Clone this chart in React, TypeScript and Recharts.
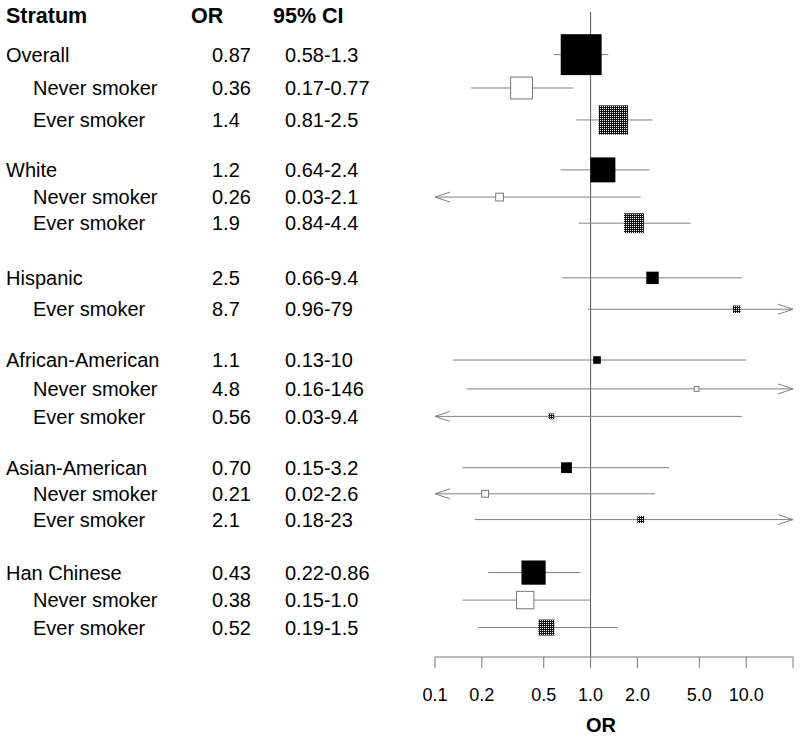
import { ComposedChart, XAxis, YAxis, Line, Scatter, ReferenceLine, Label } from 'recharts'

const strata = [
  'Overall', 'Never smoker', 'Ever smoker',
  'White', 'Never smoker', 'Ever smoker',
  'Hispanic', 'Ever smoker',
  'African-American', 'Never smoker', 'Ever smoker',
  'Asian-American', 'Never smoker', 'Ever smoker',
  'Han Chinese', 'Never smoker', 'Ever smoker',
]
const kinds = [
  'all', 'never', 'ever',
  'all', 'never', 'ever',
  'all', 'ever',
  'all', 'never', 'ever',
  'all', 'never', 'ever',
  'all', 'never', 'ever',
]
const orLabels = [
  '0.87', '0.36', '1.4',
  '1.2', '0.26', '1.9',
  '2.5', '8.7',
  '1.1', '4.8', '0.56',
  '0.70', '0.21', '2.1',
  '0.43', '0.38', '0.52',
]
const ciLabels = [
  '0.58-1.3', '0.17-0.77', '0.81-2.5',
  '0.64-2.4', '0.03-2.1', '0.84-4.4',
  '0.66-9.4', '0.96-79',
  '0.13-10', '0.16-146', '0.03-9.4',
  '0.15-3.2', '0.02-2.6', '0.18-23',
  '0.22-0.86', '0.15-1.0', '0.19-1.5',
]
// row positions on the vertical axis (row units, 0 = top)
const rowPos = [
  1.52, 2.71, 3.85,
  5.63, 6.6, 7.53,
  9.48, 10.6,
  12.41, 13.44, 14.42,
  16.25, 17.18, 18.1,
  19.99, 20.97, 21.95,
]
const headerPos = 0.1
const orTicks = [0.1, 0.2, 0.5, 1, 2, 5, 10, 20]

const X_MIN = 0.1
const X_MAX = 20
const BOX_SCALE = 33
const FONT = '"Liberation Sans", Arial, sans-serif'

const rows = strata.map((name, i) => {
  const [lo, hi] = ciLabels[i].split('-').map(Number)
  return { name, kind: kinds[i], x: Number(orLabels[i]), lo, hi, pos: rowPos[i] }
})

const ciData = (r: { lo: number; hi: number; pos: number }) => [
  { x: Math.max(r.lo, X_MIN), pos: r.pos, arrow: r.lo < X_MIN ? 'left' : '' },
  { x: Math.min(r.hi, X_MAX), pos: r.pos, arrow: r.hi > X_MAX ? 'right' : '' },
]

const ArrowDot = (props: any) => {
  const { cx, cy, payload } = props
  if (!payload || !payload.arrow) return <g />
  const d = payload.arrow === 'left' ? 15 : -15
  return (
    <polyline
      points={`${cx + d},${cy - 5} ${cx},${cy} ${cx + d},${cy + 5}`}
      fill="none"
      stroke="#808080"
      strokeWidth={1}
    />
  )
}

const BoxShape = (props: any) => {
  const { cx, cy, payload } = props
  const s = BOX_SCALE / Math.log(payload.hi / payload.lo)
  const fill = payload.kind === 'all' ? '#000' : payload.kind === 'never' ? '#fff' : 'url(#everDots)'
  return (
    <rect
      x={cx - s / 2}
      y={cy - s / 2}
      width={s}
      height={s}
      fill={fill}
      stroke={payload.kind === 'never' ? '#777' : 'none'}
      strokeWidth={1}
    />
  )
}

const RowTick = (props: any) => {
  const { y, payload } = props
  const i = rowPos.indexOf(payload.value)
  if (i < 0) {
    return (
      <g fontFamily={FONT} fontSize={21.5} fontWeight="bold" fill="#000">
        <text x={6} y={y} dy="0.36em">Stratum</text>
        <text x={191} y={y} dy="0.36em">OR</text>
        <text x={273} y={y} dy="0.36em">95% CI</text>
      </g>
    )
  }
  return (
    <g fontFamily={FONT} fontSize={20} fill="#000">
      <text x={kinds[i] === 'all' ? 6 : 33} y={y} dy="0.36em">{strata[i]}</text>
      <text x={212} y={y} dy="0.36em">{orLabels[i]}</text>
      <text x={285} y={y} dy="0.36em">{ciLabels[i]}</text>
    </g>
  )
}

export default function App() {
  return (
    <div style={{ position: 'absolute', left: 0, top: 0, width: 800, height: 737, background: '#fff' }}>
      <ComposedChart width={800} height={737} margin={{ top: 12, right: 7, bottom: 0, left: 0 }}>
        <defs>
          <pattern id="everDots" width="2" height="2" patternUnits="userSpaceOnUse">
            <rect width="2" height="2" fill="#111" />
            <rect width="1" height="1" fill="#fff" />
          </pattern>
        </defs>
        <XAxis
          dataKey="x"
          type="number"
          scale="log"
          domain={[X_MIN, X_MAX]}
          allowDataOverflow
          ticks={orTicks}
          interval={0}
          tickFormatter={(v: number) => (v >= X_MAX ? '' : v.toFixed(1))}
          height={80}
          tickSize={11}
          tickMargin={20}
          stroke="#777"
          tick={{ fill: '#000', fontSize: 18, fontFamily: FONT }}
        >
          <Label
            content={(p: any) => {
              const vb = p.viewBox
              return (
                <text
                  x={vb.x + vb.width / 2 - 13}
                  y={vb.y + vb.height - 5}
                  textAnchor="middle"
                  fontFamily={FONT}
                  fontSize={20}
                  fontWeight="bold"
                  fill="#000"
                >
                  OR
                </text>
              )
            }}
          />
        </XAxis>
        <YAxis
          dataKey="pos"
          type="number"
          domain={[0, 23]}
          reversed
          ticks={[headerPos, ...rowPos]}
          interval={0}
          width={435}
          axisLine={false}
          tickLine={false}
          tick={RowTick}
        />
        <ReferenceLine x={1} stroke="#555" strokeWidth={1} />
        {rows.map((r, i) => (
          <Line
            key={i}
            data={ciData(r)}
            dataKey="pos"
            stroke="#808080"
            strokeWidth={1}
            dot={ArrowDot}
            activeDot={false}
            isAnimationActive={false}
          />
        ))}
        <Scatter data={rows} shape={BoxShape} isAnimationActive={false} />
      </ComposedChart>
    </div>
  )
}
